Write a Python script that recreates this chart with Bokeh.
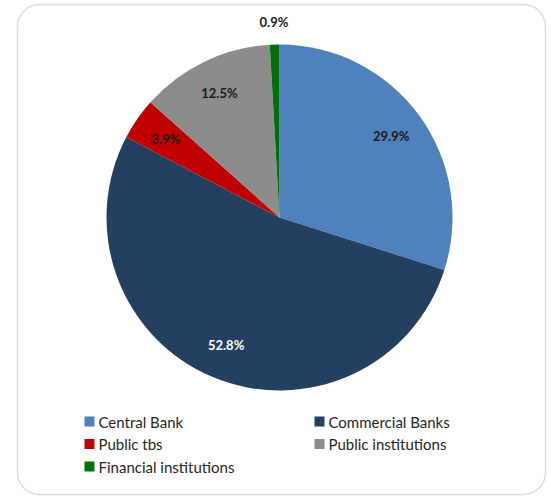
import math
from bokeh.plotting import figure
from bokeh.models import Range1d, BoxAnnotation, ColumnDataSource
from bokeh.core.properties import value
from bokeh.embed import file_html
from bokeh.resources import INLINE

categories = ["Central Bank", "Commercial Banks", "Public tbs", "Public institutions", "Financial institutions"]
shares = [29.9, 52.8, 3.9, 12.5, 0.9]
colors = ["#4F81BD", "#243F60", "#C00000", "#8C8C8C", "#00700A"]
label_colors = ["#1a1a1a", "#ffffff", "#1a1a1a", "#1a1a1a", "#1a1a1a"]

W, H = 551, 500
def sx(v):  # picture x -> data x
    return v
def sy(v):  # picture y -> data y
    return H - v

p = figure(width=W, height=H, output_backend="svg", toolbar_location=None,
           x_range=Range1d(0, W), y_range=Range1d(0, H),
           min_border=0, outline_line_color=None)
p.axis.visible = False
p.grid.visible = False
p.background_fill_color = "white"

# rounded frame
p.add_layout(BoxAnnotation(left=sx(17), right=sx(545), top=sy(4), bottom=sy(494),
                           fill_color=None, line_color="#8a8a8a", line_width=1.5,
                           border_radius=22))

cx, cy, R = sx(279), sy(217), 173
total = sum(shares)
starts, ends, lx, ly, labels = [], [], [], [], []
cum = 0.0
for s in shares:
    a0 = math.pi / 2 - 2 * math.pi * cum / total
    cum += s
    a1 = math.pi / 2 - 2 * math.pi * cum / total
    starts.append(a0)
    ends.append(a1)
    mid = (a0 + a1) / 2
    f = 1.13 if s / total < 0.02 else 0.8
    lx.append(cx + f * R * math.cos(mid))
    ly.append(cy + f * R * math.sin(mid))
    labels.append(f"{s:.1f}%")

src = ColumnDataSource(dict(start=starts, end=ends, color=colors, lx=lx, ly=ly,
                            label=labels, lc=label_colors))
p.wedge(x=cx, y=cy, radius=R, radius_units="screen", start_angle="start", end_angle="end",
        direction="clock", fill_color="color", line_color=None, source=src)
p.text(x="lx", y="ly", text="label", text_color="lc", text_font=value("Lato"),
       text_font_size="13px", text_font_style="bold", text_align="center",
       text_baseline="middle", source=src)

# legend (two columns)
col_x = [sx(84), sx(314)]
row_y0, row_dy = 421, 22.5
for i, (name, c) in enumerate(zip(categories, colors)):
    col, row = i % 2, i // 2
    yy = sy(row_y0 + row * row_dy)
    p.rect(x=col_x[col] + 5, y=yy, width=10, height=10, fill_color=c, line_color=None)
    p.text(x=[col_x[col] + 14], y=[yy], text=[name], text_font=value("Lato"),
           text_font_size="15px", text_color="#262626", text_baseline="middle")

open("out.html", "w").write(file_html(p, INLINE))
